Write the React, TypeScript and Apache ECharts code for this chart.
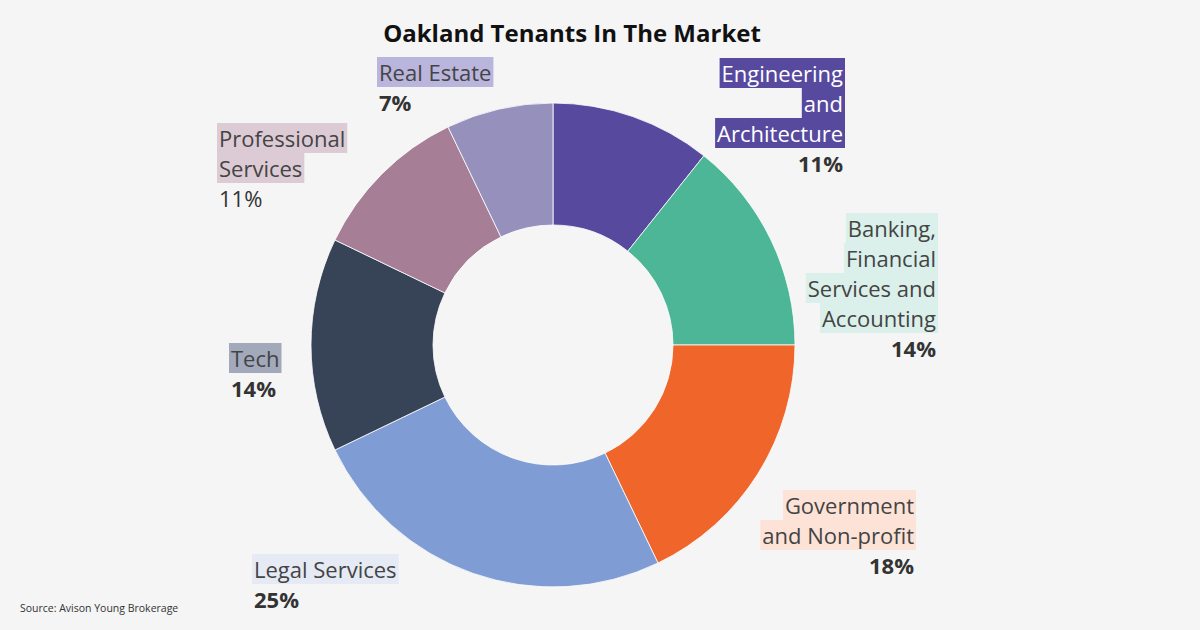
import React, { useEffect, useRef } from "react";
import * as echarts from "echarts";

const categories = [
  ["Engineering", "and", "Architecture"],
  ["Banking,", "Financial", "Services and", "Accounting"],
  ["Government", "and Non-profit"],
  ["Legal Services"],
  ["Tech"],
  ["Professional", "Services"],
  ["Real Estate"],
];
const counts = [3, 4, 5, 7, 4, 3, 2];
const sliceColors = ["#574a9e", "#4db696", "#f06529", "#7f9dd4", "#374357", "#a67e95", "#9690bd"];
const labelBg = ["#574a9e", "#dbf0ea", "#fde3d7", "#e5eaf5", "#a1a9ba", "#dccbd5", "#bab5dd"];
const labelText = ["#ffffff", "#444444", "#444444", "#444444", "#444444", "#444444", "#444444"];
const pctBold = [true, true, true, true, true, false, true];

// label anchor placement (layout, not data)
const labelPlace = [
  { x: 845, y: 58, align: "right" },
  { x: 938, y: 213, align: "right" },
  { x: 916, y: 490, align: "right" },
  { x: 252, y: 554, align: "left" },
  { x: 229, y: 343, align: "left" },
  { x: 217, y: 123, align: "left" },
  { x: 377, y: 57, align: "left" },
];

export default function App() {
  const ref = useRef<HTMLDivElement>(null);
  useEffect(() => {
    document.body.style.margin = "0";
    const chart = echarts.init(ref.current!, null, { renderer: "svg" });
    const rich: any = {};
    categories.forEach((_, i) => {
      const al = labelPlace[i].align;
      rich["n" + i] = {
        fontFamily: "Open Sans",
        fontSize: 22,
        lineHeight: 30,
        color: labelText[i],
        backgroundColor: labelBg[i],
        padding: [4, 2, 4, 2],
        align: al,
      };
      rich["p" + i] = {
        fontFamily: "Open Sans",
        fontSize: 22,
        lineHeight: 30,
        fontWeight: pctBold[i] ? "bold" : "normal",
        color: "#333333",
        padding: [4, 2, 4, 2],
        align: al,
      };
    });
    const data = categories.map((lines, i) => ({
      name: lines.join(" "),
      value: counts[i],
      itemStyle: { color: sliceColors[i] },
      label: { align: labelPlace[i].align },
    }));
    chart.setOption({
      animation: false,
      backgroundColor: "#f5f5f5",
      title: {
        text: "Oakland Tenants In The Market",
        left: 567,
        top: 15,
        textAlign: "center",
        textStyle: { fontFamily: "Open Sans", fontSize: 24, fontWeight: "bold", color: "#111111" },
      },
      graphic: [
        {
          type: "text",
          left: 20,
          top: 602,
          style: { text: "Source: Avison Young Brokerage", font: '10.5px "Open Sans"', fill: "#333333" },
        },
      ],
      series: [
        {
          type: "pie",
          center: [553, 345],
          radius: [120, 242],
          startAngle: 90,
          clockwise: true,
          avoidLabelOverlap: false,
          itemStyle: { borderColor: "#ffffff", borderWidth: 0.8 },
          emphasis: { disabled: true },
          labelLine: { show: false },
          label: {
            show: true,
            position: "outside",
            overflow: "none",
            formatter: (p: any) => {
              const i = p.dataIndex;
              const lines = categories[i].map((l) => `{n${i}|${l}}`).join("\n");
              return `${lines}\n{p${i}|${Math.round(p.percent)}%}`;
            },
            rich,
          },
          labelLayout: (p: any) => {
            const lp = labelPlace[p.dataIndex];
            return { x: lp.x, y: lp.y, align: lp.align, verticalAlign: "top" };
          },
          data,
        },
      ],
    });
    return () => chart.dispose();
  }, []);
  return <div ref={ref} style={{ width: 1200, height: 630 }} />;
}
